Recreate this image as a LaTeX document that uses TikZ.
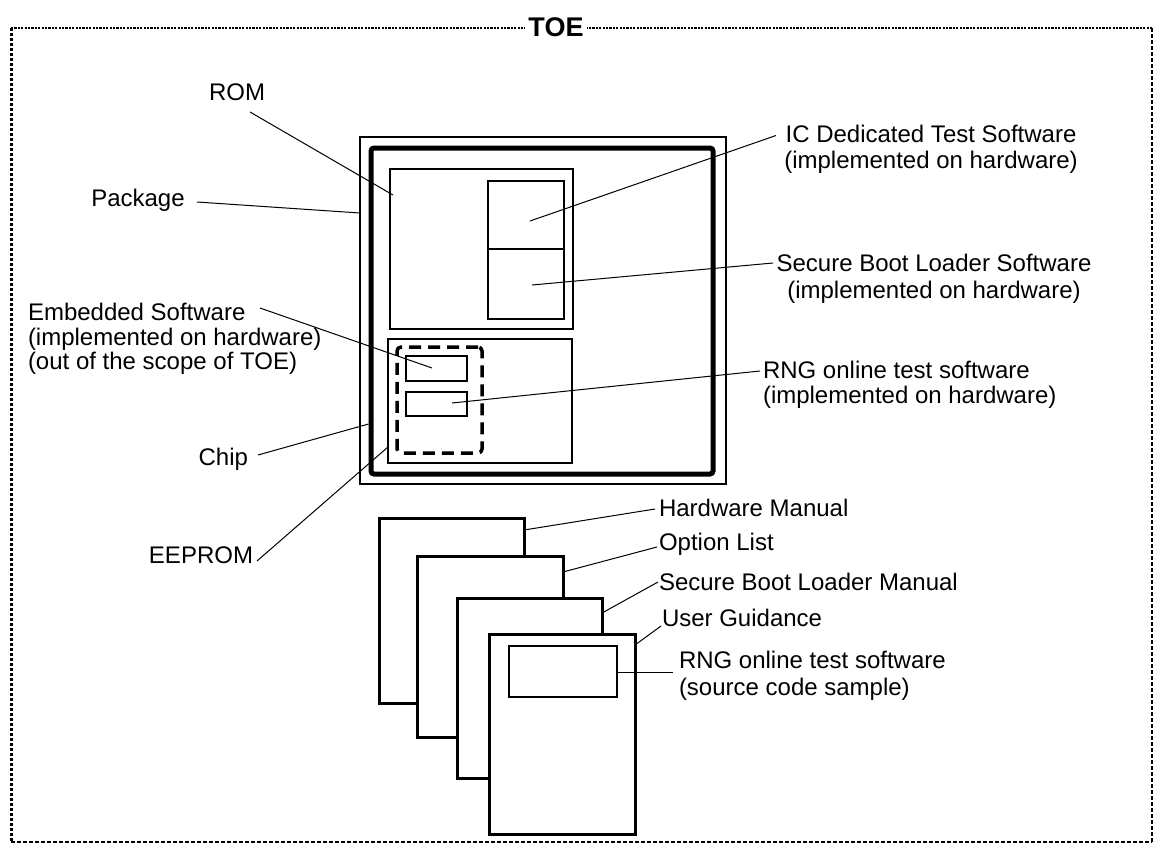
\documentclass[tikz,border=0pt]{standalone}
\usepackage{fontspec}
\setmainfont{Liberation Sans}
\begin{document}
\begin{tikzpicture}[x=1pt,y=-1pt,
  lbl/.style={inner sep=0pt,outer sep=0pt,font=\fontsize{24}{27}\selectfont},
  box/.style={draw,inner sep=0pt,outer sep=0pt,line width=1.4pt},
  leader/.style={line width=1pt},
  doc/.style={draw,fill=white,inner sep=0pt,outer sep=0pt,line width=3pt},
]
\useasboundingbox (0,0) rectangle (1154,844);
% TOE border
\coordinate (tl) at (11,28);
\coordinate (tr) at (1152,28);
\coordinate (bl) at (11,842);
\coordinate (br) at (1152,842);
\draw[line width=2.5pt,dash pattern=on 2.2pt off 1.2pt] (tl) -- (tr);
\draw[line width=3pt,dash pattern=on 3pt off 2pt] (tl) -- (bl);
\draw[line width=1.5pt,dash pattern=on 4pt off 2pt] (bl) -- (br);
\draw[line width=1.5pt,dash pattern=on 4pt off 2pt] (tr) -- (br);
\node[lbl,fill=white,inner xsep=3pt,anchor=base,font=\fontsize{27}{30}\selectfont\bfseries] (toe) at (556,36.7) {TOE};

% package and chip
\node[box,line width=1.3pt,minimum width=366pt,minimum height=347pt] (pkg) at (543,310.5) {};
\node[box,line width=5pt,rounded corners=3pt,minimum width=342pt,minimum height=326pt] (chip) at (542,311) {};
\node[box,minimum width=183pt,minimum height=160pt] (rom) at (481.5,249) {};
\node[box,line width=1.8pt,minimum width=76pt,minimum height=68pt] (ic) at (526,215) {};
\node[box,line width=1.8pt,minimum width=76pt,minimum height=70pt] (sbl) at (526,284) {};
\node[box,minimum width=184pt,minimum height=124pt] (eeprom) at (480,401) {};
\node[box,line width=3.5pt,dash pattern=on 12pt off 7pt,rounded corners=4pt,minimum width=85pt,minimum height=106pt] (emb) at (439.5,400) {};
\node[box,line width=1.8pt,minimum width=61pt,minimum height=25pt] (embsw) at (436.5,368.5) {};
\node[box,line width=1.8pt,minimum width=61pt,minimum height=24pt] (rngsw) at (436.5,404) {};

% documents
\node[doc,minimum width=145pt,minimum height=185pt] (d1) at (451.5,610.5) {};
\node[doc,minimum width=146pt,minimum height=181pt] (d2) at (490,646.5) {};
\node[doc,minimum width=145pt,minimum height=180pt] (d3) at (529.5,688) {};
\node[doc,minimum width=146pt,minimum height=200pt] (d4) at (562,734) {};
\node[box,line width=1.4pt,minimum width=108pt,minimum height=51pt] (src) at (563,671.5) {};

% labels left
\node[lbl,anchor=base] (lrom) at (237,100.6) {ROM};
\node[lbl,anchor=base] (lpkg) at (138,206.6) {Package};
\node[lbl,anchor=base west,align=left,font=\fontsize{24}{24.5}\selectfont] (lemb) at (28,369.6) {Embedded Software\\(implemented on hardware)\\(out of the scope of TOE)};
\node[lbl,anchor=base east] (lchip) at (248,465.6) {Chip};
\node[lbl,anchor=base east] (leep) at (253,563.6) {EEPROM};
% labels right
\node[lbl,anchor=base,align=center,font=\fontsize{24}{26}\selectfont] (lic) at (931,168.6) {IC Dedicated Test Software\\(implemented on hardware)};
\node[lbl,anchor=base,align=center] (lsbl) at (934,298.6) {Secure Boot Loader Software\\(implemented on hardware)};
\node[lbl,anchor=base west,align=left,font=\fontsize{24}{25}\selectfont] (lrng) at (763,403.6) {RNG online test software\\(implemented on hardware)};
\node[lbl,anchor=base west] (lhw) at (659,516.6) {Hardware Manual};
\node[lbl,anchor=base west] (lopt) at (659,550.6) {Option List};
\node[lbl,anchor=base west] (lsbm) at (659,590.6) {Secure Boot Loader Manual};
\node[lbl,anchor=base west] (lug) at (662,626.6) {User Guidance};
\node[lbl,anchor=base west,align=left] (lsrc) at (679,695.6) {RNG online test software\\(source code sample)};

% leader ends
\coordinate (romA) at (250,112);   \coordinate (romB) at (393,195);
\coordinate (pkgA) at (197,202);   \coordinate (pkgB) at (pkg.west |- 0,213);
\coordinate (embA) at (260,308);   \coordinate (embB) at (432,368);
\coordinate (chipA) at (258,455);  \coordinate (chipB) at (368.5,424);
\coordinate (eepA) at (257,561);   \coordinate (eepB) at (eeprom.west |- 0,447);
\coordinate (icA) at (530,221);    \coordinate (icB) at (776,135.5);
\coordinate (sblA) at (532,285);   \coordinate (sblB) at (773,263);
\coordinate (rngA) at (452,403);   \coordinate (rngB) at (760,371);
\coordinate (hwA) at (d1.east |- 0,530);  \coordinate (hwB) at (655,509);
\coordinate (optA) at (d2.east |- 0,572); \coordinate (optB) at (657,547);
\coordinate (sbmA) at (d3.east |- 0,613); \coordinate (sbmB) at (658,582);
\coordinate (ugA) at (d4.east |- 0,645);  \coordinate (ugB) at (661,626);
\coordinate (srcA) at (618,672);   \coordinate (srcB) at (673,672);

\draw[leader] (romA) -- (romB);
\draw[leader] (pkgA) -- (pkgB);
\draw[leader] (embA) -- (embB);
\draw[leader] (chipA) -- (chipB);
\draw[leader] (eepA) -- (eepB);
\draw[leader] (icA) -- (icB);
\draw[leader] (sblA) -- (sblB);
\draw[leader] (rngA) -- (rngB);
\draw[leader] (hwA) -- (hwB);
\draw[leader] (optA) -- (optB);
\draw[leader] (sbmA) -- (sbmB);
\draw[leader] (ugA) -- (ugB);
\draw[leader] (srcA) -- (srcB);
\end{tikzpicture}
\end{document}
